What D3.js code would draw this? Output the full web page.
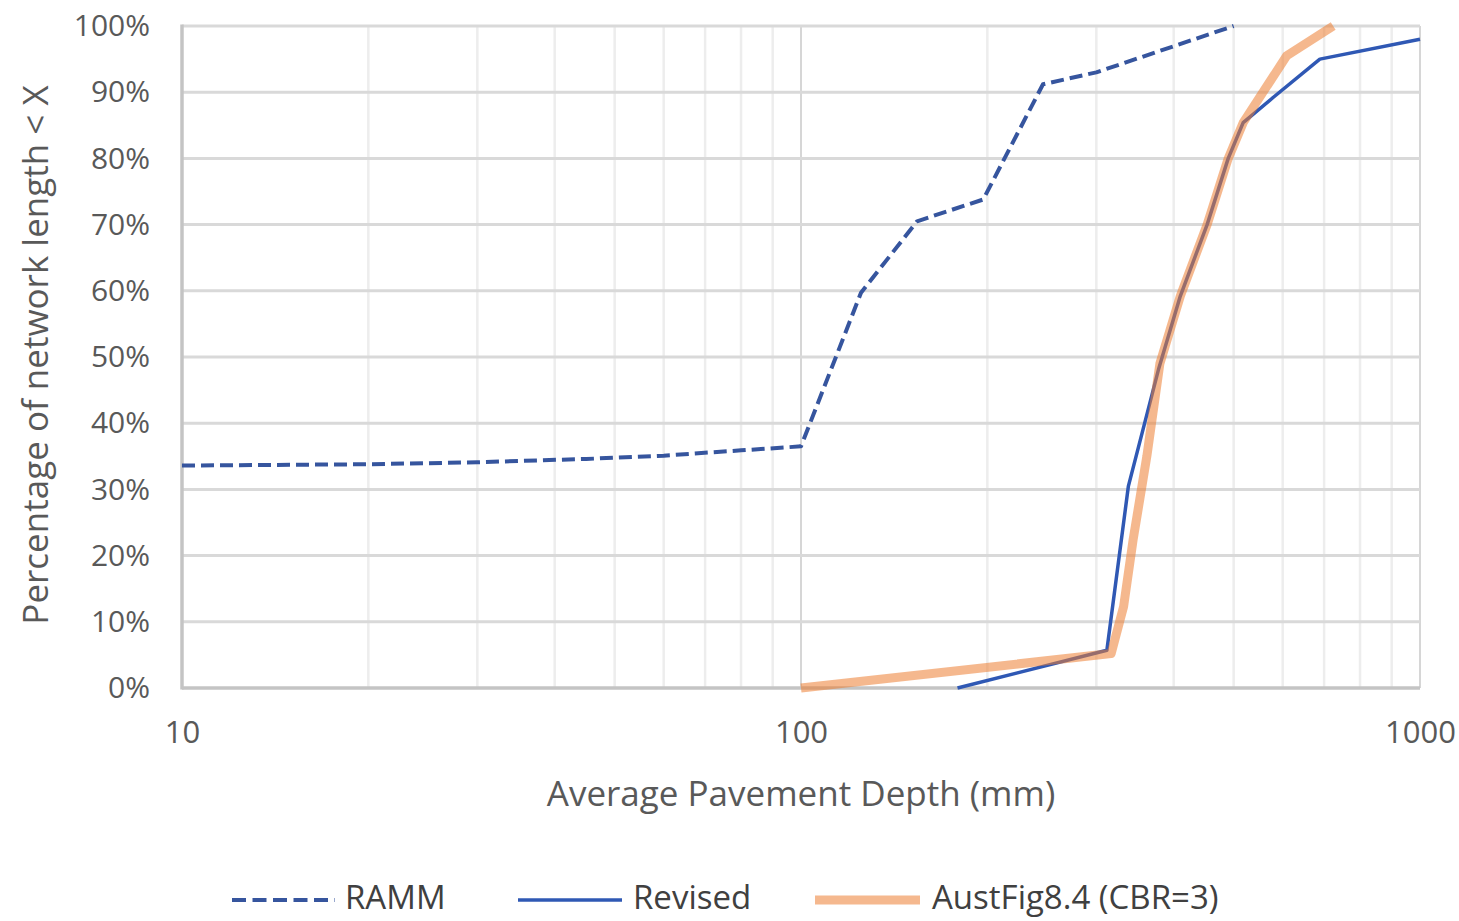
<!DOCTYPE html>
<html>
<head>
<meta charset="utf-8">
<script src="https://cdn.jsdelivr.net/npm/d3@7"></script>
<style>
  html, body { margin: 0; padding: 0; background: #ffffff; }
  svg { display: block; }
</style>
</head>
<body>
<svg id="chart" width="1459" height="921"></svg>
<script>
// ---- Data ----
const xTickValues = [10, 100, 1000];
const yTickValues = [0, 0.1, 0.2, 0.3, 0.4, 0.5, 0.6, 0.7, 0.8, 0.9, 1.0];
const minorGridValues = [20, 30, 40, 50, 60, 70, 80, 90, 200, 300, 400, 500, 600, 700, 800, 900];

const seriesNames = ["RAMM", "Revised", "AustFig8.4 (CBR=3)"];

const rammDepth = [10, 20, 30, 45, 60, 80, 100, 125, 154, 197, 246, 300, 500];
const rammPct   = [0.336, 0.338, 0.341, 0.346, 0.351, 0.359, 0.365, 0.597, 0.705, 0.738, 0.912, 0.930, 1.0];

const revisedDepth = [179, 312, 338, 378, 410, 453, 490, 518, 579, 689, 1000];
const revisedPct   = [0.0, 0.057, 0.305, 0.481, 0.592, 0.70, 0.80, 0.854, 0.892, 0.95, 0.98];

const austDepth = [100, 317, 332, 344, 362, 380, 410, 453, 490, 518, 609, 724];
const austPct   = [0.0, 0.052, 0.123, 0.224, 0.35, 0.49, 0.592, 0.70, 0.80, 0.854, 0.955, 1.0];

const xTitle = "Average Pavement Depth (mm)";
const yTitle = "Percentage of network length < X";

// ---- Layout ----
const svg = d3.select("#chart");
const W = 1459, H = 921;
const plot = { left: 182, right: 1420, top: 26, bottom: 688 };

svg.append("rect").attr("width", W).attr("height", H).attr("fill", "#ffffff");

const x = d3.scaleLog().domain([10, 1000]).range([plot.left, plot.right]);
const y = d3.scaleLinear().domain([0, 1]).range([plot.bottom, plot.top]);

const grid = svg.append("g");

// minor vertical gridlines
grid.selectAll("line.minor").data(minorGridValues).join("line")
  .attr("class", "minor")
  .attr("x1", d => x(d)).attr("x2", d => x(d))
  .attr("y1", plot.top).attr("y2", plot.bottom)
  .attr("stroke", "#ededed").attr("stroke-width", 2.5);

// major vertical gridlines
grid.selectAll("line.majorv").data(xTickValues.slice(1)).join("line")
  .attr("class", "majorv")
  .attr("x1", d => x(d)).attr("x2", d => x(d))
  .attr("y1", plot.top).attr("y2", plot.bottom)
  .attr("stroke", "#d6d6d6").attr("stroke-width", 2);

// horizontal gridlines
grid.selectAll("line.h").data(yTickValues.slice(1)).join("line")
  .attr("class", "h")
  .attr("x1", plot.left).attr("x2", plot.right)
  .attr("y1", d => y(d)).attr("y2", d => y(d))
  .attr("stroke", "#d9d9d9").attr("stroke-width", 3);

// axes lines
svg.append("line")
  .attr("x1", plot.left).attr("x2", plot.left)
  .attr("y1", plot.top - 1.5).attr("y2", plot.bottom + 1.5)
  .attr("stroke", "#c4c4c4").attr("stroke-width", 3.5);
svg.append("line")
  .attr("x1", plot.left).attr("x2", plot.right)
  .attr("y1", plot.bottom).attr("y2", plot.bottom)
  .attr("stroke", "#c4c4c4").attr("stroke-width", 3.5);

// Y axis labels
const yAxis = d3.axisLeft(y).tickValues(yTickValues)
  .tickFormat(d3.format(".0%")).tickSize(0).tickPadding(32);
const gy = svg.append("g").attr("transform", `translate(${plot.left},0)`).call(yAxis);
gy.select(".domain").remove();
gy.selectAll("text")
  .attr("font-family", "'Open Sans', sans-serif")
  .attr("font-size", 30).attr("fill", "#595959");

// X axis labels
const xAxis = d3.axisBottom(x).tickValues(xTickValues)
  .tickFormat(d3.format("d")).tickSize(0).tickPadding(33);
const gx = svg.append("g").attr("transform", `translate(0,${plot.bottom})`).call(xAxis);
gx.select(".domain").remove();
gx.selectAll("text")
  .attr("font-family", "'Open Sans', sans-serif")
  .attr("font-size", 31).attr("fill", "#595959");

// Axis titles
svg.append("text")
  .attr("x", (plot.left + plot.right) / 2).attr("y", 806)
  .attr("text-anchor", "middle")
  .attr("font-family", "'Open Sans', sans-serif")
  .attr("font-size", 35).attr("fill", "#595959")
  .text(xTitle);

svg.append("text")
  .attr("transform", "translate(48,355) rotate(-90)")
  .attr("text-anchor", "middle")
  .attr("font-family", "'Open Sans', sans-serif")
  .attr("font-size", 35).attr("fill", "#595959")
  .text(yTitle);

// Lines
const line = d3.line().x(d => x(d[0])).y(d => y(d[1]));

const rammData = rammDepth.map((d, i) => [d, rammPct[i]]);
const revisedData = revisedDepth.map((d, i) => [d, revisedPct[i]]);
const austData = austDepth.map((d, i) => [d, austPct[i]]);

const styles = [
  { color: "#36559e", width: 4, dash: "13,6", opacity: 1 },
  { color: "#2f58b4", width: 3.5, dash: null, opacity: 1 },
  { color: "#ed7d31", width: 9, dash: null, opacity: 0.55 }
];
const allData = [rammData, revisedData, austData];

const lines = svg.append("g");
allData.forEach((data, i) => {
  const s = styles[i];
  lines.append("path")
    .datum(data)
    .attr("d", line)
    .attr("fill", "none")
    .attr("stroke", s.color)
    .attr("stroke-width", s.width)
    .attr("stroke-opacity", s.opacity)
    .attr("stroke-linejoin", "round")
    .attr("stroke-dasharray", s.dash);
});

// Legend
const legendItems = [
  { x0: 232, x1: 335, tx: 345 },
  { x0: 518, x1: 622, tx: 633 },
  { x0: 815, x1: 920, tx: 932 }
];
const legend = svg.append("g");
seriesNames.forEach((name, i) => {
  const s = styles[i];
  const it = legendItems[i];
  legend.append("line")
    .attr("x1", it.x0).attr("x2", it.x1)
    .attr("y1", 900).attr("y2", 900)
    .attr("stroke", s.color)
    .attr("stroke-width", s.width)
    .attr("stroke-opacity", s.opacity)
    .attr("stroke-dasharray", s.dash ? "14,6.5" : null);
  legend.append("text")
    .attr("x", it.tx).attr("y", 909)
    .attr("font-family", "'Open Sans', sans-serif")
    .attr("font-size", 33).attr("fill", "#404040")
    .text(name);
});
</script>
</body>
</html>
